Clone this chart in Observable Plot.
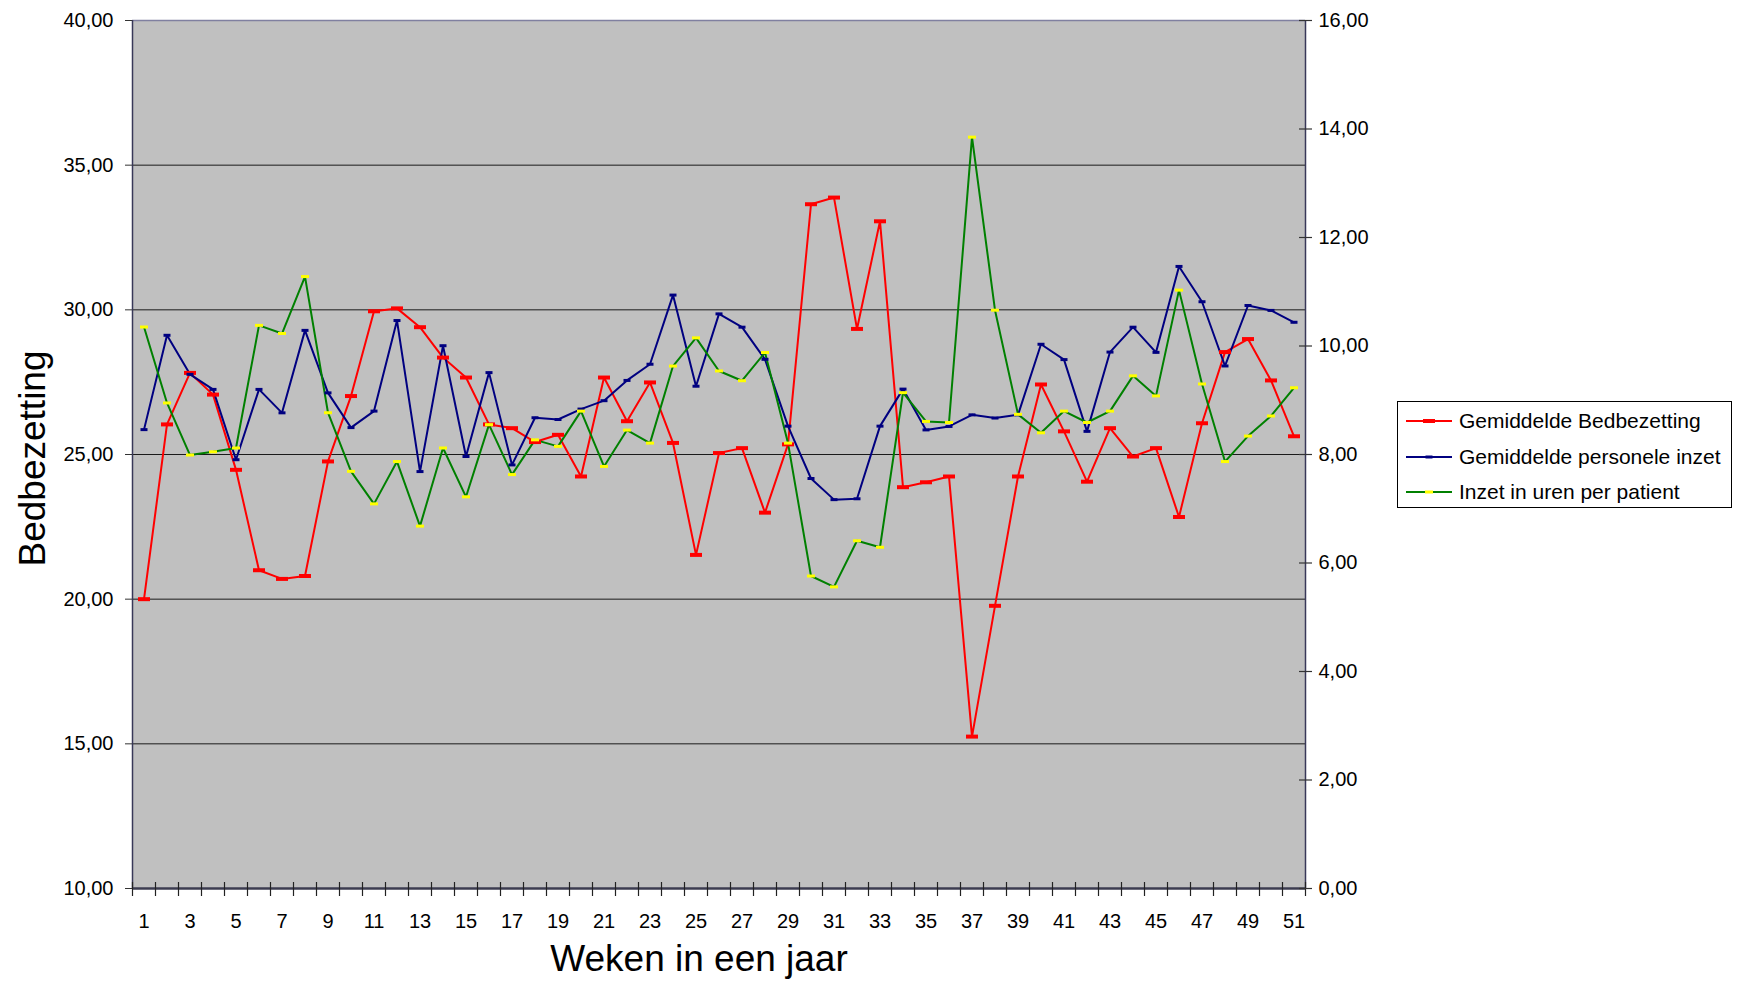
<!DOCTYPE html>
<html>
<head>
<meta charset="utf-8">
<script src="https://cdn.jsdelivr.net/npm/d3@7"></script>
<script src="https://cdn.jsdelivr.net/npm/@observablehq/plot@0.6"></script>
<style>
html, body { margin: 0; padding: 0; background: #fff; }
#wrap { position: relative; width: 1742px; height: 992px; font-family: "Liberation Sans", Arial, sans-serif; overflow: hidden; }
#legend { position: absolute; left: 1397px; top: 401px; width: 335px; height: 107px; border: 1px solid #000; background: #fff; box-sizing: border-box; }
#legend .row { position: absolute; left: 0; height: 24px; display: flex; align-items: center; }
#legend .row span { font-size: 21px; color: #000; margin-left: 5px; white-space: nowrap; }
</style>
</head>
<body>
<div id="wrap"></div>
<script>
// ---- data ----
const weeks = [1,2,3,4,5,6,7,8,9,10,11,12,13,14,15,16,17,18,19,20,21,22,23,24,25,26,27,28,29,30,31,32,33,34,35,36,37,38,39,40,41,42,43,44,45,46,47,48,49,50,51];
const bedbezetting = [20.0, 26.04, 27.82, 27.07, 24.47, 21.0, 20.7, 20.8, 24.76, 27.02, 29.95, 30.05, 29.4, 28.35, 27.66, 26.04, 25.91, 25.43, 25.68, 24.24, 27.66, 26.15, 27.49, 25.4, 21.53, 25.05, 25.22, 22.99, 25.35, 33.65, 33.88, 29.34, 33.06, 23.87, 24.04, 24.24, 15.25, 19.77, 24.24, 27.42, 25.8, 24.06, 25.91, 24.93, 25.22, 22.84, 26.08, 28.54, 28.99, 27.56, 25.63];
const personeleInzet = [25.86, 29.12, 27.77, 27.25, 24.82, 27.25, 26.44, 29.29, 27.13, 25.93, 26.5, 29.63, 24.41, 28.76, 24.93, 27.83, 24.64, 26.27, 26.21, 26.57, 26.86, 27.56, 28.12, 30.51, 27.36, 29.86, 29.4, 28.29, 25.98, 24.17, 23.44, 23.47, 25.98, 27.26, 25.85, 25.97, 26.37, 26.26, 26.37, 28.81, 28.28, 25.8, 28.54, 29.4, 28.53, 31.5, 30.28, 28.06, 30.15, 29.98, 29.57];
const urenPerPatient = [10.35, 8.95, 7.99, 8.05, 8.12, 10.38, 10.23, 11.28, 8.77, 7.69, 7.09, 7.87, 6.68, 8.12, 7.22, 8.55, 7.63, 8.27, 8.15, 8.8, 7.78, 8.45, 8.21, 9.63, 10.15, 9.54, 9.36, 9.88, 8.21, 5.76, 5.56, 6.41, 6.29, 9.14, 8.61, 8.59, 13.85, 10.66, 8.74, 8.4, 8.8, 8.59, 8.8, 9.45, 9.08, 11.03, 9.3, 7.87, 8.34, 8.71, 9.23];
const leftTicks = [10, 15, 20, 25, 30, 35, 40];
const rightTicks = [0, 2, 4, 6, 8, 10, 12, 14, 16];
const xTickLabels = [1,3,5,7,9,11,13,15,17,19,21,23,25,27,29,31,33,35,37,39,41,43,45,47,49,51];
const seriesNames = ["Gemiddelde Bedbezetting", "Gemiddelde personele inzet", "Inzet in uren per patient"];
const yTitle = "Bedbezetting";
const xTitle = "Weken in een jaar";

// ---- styles ----
const lineColors = ["#ff0000", "#000080", "#008000"];
const markerColors = ["#ff0000", "#000080", "#ffff00"];
const markerSizes = [[12, 4], [7, 3], [8, 3]];

// right axis (0..16) mapped onto left axis (10..40)
const L0 = 10, L1 = 40, R0 = 0, R1 = 16;
const toLeft = v => L0 + (v - R0) * (L1 - L0) / (R1 - R0);
const fromLeft = v => R0 + (v - L0) * (R1 - R0) / (L1 - L0);
const fmt = v => (Math.round(v * 100) / 100).toFixed(2).replace(".", ",");

const rows = weeks.map((w, i) => ({week: w, bed: bedbezetting[i], pers: personeleInzet[i], uren: urenPerPatient[i]}));
const bounds = weeks.map(w => w - 0.5).concat([weeks[weeks.length - 1] + 0.5]);

function barSymbol(w, h) {
  return {draw(ctx) { ctx.moveTo(-w/2, -h/2); ctx.lineTo(w/2, -h/2); ctx.lineTo(w/2, h/2); ctx.lineTo(-w/2, h/2); ctx.closePath(); }};
}

const ySeries = [d => d.bed, d => d.pers, d => toLeft(d.uren)];

const marks = [
  Plot.frame({fill: "#c0c0c0", stroke: null}),
  Plot.ruleY(leftTicks.slice(1, -1), {stroke: "#1a1a1a", strokeWidth: 1}),
  Plot.ruleY([L1], {stroke: "#8080a0", strokeWidth: 1.5}),
  Plot.ruleX([bounds[0]], {stroke: "#383858", strokeWidth: 1.5}),
  Plot.ruleX([bounds[bounds.length - 1]], {stroke: "#383858", strokeWidth: 1.5}),
  Plot.ruleY([L0], {stroke: "#3c3c50", strokeWidth: 2.5}),
  // category boundary ticks crossing the x axis
  Plot.ruleX(bounds, {x: d => d, y1: () => L0, y2: () => L0, insetTop: 8, insetBottom: 6, stroke: "#222", strokeWidth: 1.2}),
  // right axis ticks crossing the axis
  Plot.ruleY(rightTicks.map(toLeft), {y: d => d, x1: () => bounds[bounds.length - 1], x2: () => bounds[bounds.length - 1], insetLeft: -6, insetRight: -7, stroke: "#333", strokeWidth: 1.2}),
  Plot.axisX(xTickLabels, {anchor: "bottom", tickSize: 0, tickPadding: 25, fontSize: 20, label: null}),
  Plot.axisY(leftTicks, {anchor: "left", tickSize: 7, tickPadding: 12, fontSize: 20, tickFormat: fmt, label: null, stroke: "#333"}),
  Plot.axisY(rightTicks.map(toLeft), {anchor: "right", tickSize: 0, tickPadding: 13, fontSize: 20, tickFormat: d => fmt(fromLeft(d)), label: null}),
];

ySeries.forEach((yf, s) => {
  marks.push(Plot.line(rows, {x: "week", y: yf, stroke: lineColors[s], strokeWidth: 2}));
});
ySeries.forEach((yf, s) => {
  marks.push(Plot.dot(rows, {x: "week", y: yf, symbol: barSymbol(markerSizes[s][0], markerSizes[s][1]), r: 3, fill: markerColors[s], stroke: null}));
});

marks.push(Plot.text([yTitle], {text: d => d, frameAnchor: "left", textAnchor: "middle", rotate: -90, dx: -99, dy: 4, fontSize: 37, fill: "#000"}));
marks.push(Plot.text([xTitle], {text: d => d, frameAnchor: "bottom", dy: 82, dx: -20, fontSize: 37, fill: "#000"}));

const chart = Plot.plot({
  width: 1742,
  height: 992,
  marginLeft: 132,
  marginRight: 437,
  marginTop: 20,
  marginBottom: 104,
  style: {fontFamily: '"Liberation Sans", Arial, sans-serif', fontSize: "20px", background: "#fff", color: "#000", overflow: "visible"},
  x: {type: "linear", domain: [bounds[0], bounds[bounds.length - 1]], axis: null},
  y: {type: "linear", domain: [L0, L1], axis: null},
  marks
});
const wrap = document.getElementById("wrap");
wrap.appendChild(chart);

// ---- legend ----
const legend = document.createElement("div");
legend.id = "legend";
const rowTops = [7, 43, 78];
seriesNames.forEach((name, s) => {
  const row = document.createElement("div");
  row.className = "row";
  row.style.top = rowTops[s] + "px";
  const svg = d3.create("svg").attr("width", 56).attr("height", 24);
  svg.append("line").attr("x1", 8).attr("x2", 54).attr("y1", 12).attr("y2", 12).attr("stroke", lineColors[s]).attr("stroke-width", 2);
  const [w, h] = markerSizes[s];
  svg.append("rect").attr("x", 31 - w / 2).attr("y", 12 - h / 2).attr("width", w).attr("height", h).attr("fill", markerColors[s]);
  row.appendChild(svg.node());
  const span = document.createElement("span");
  span.textContent = name;
  row.appendChild(span);
  legend.appendChild(row);
});
wrap.appendChild(legend);
</script>
</body>
</html>
